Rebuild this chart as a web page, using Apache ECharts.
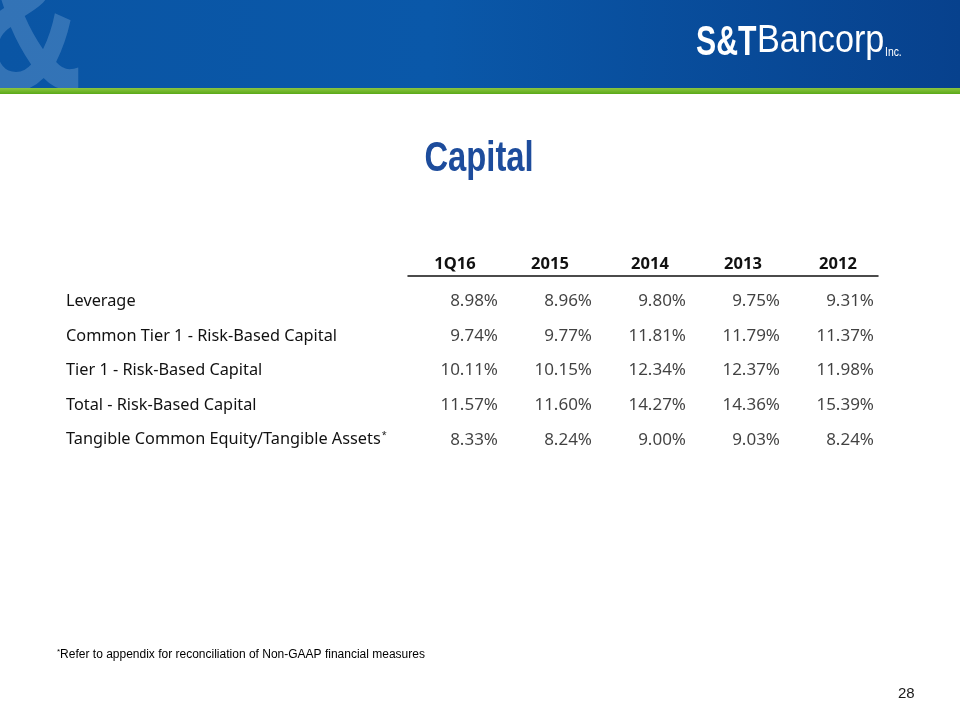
<!DOCTYPE html>
<html><head><meta charset="utf-8">
<script src="https://cdn.jsdelivr.net/npm/echarts@6/dist/echarts.min.js"></script>
<style>html,body{margin:0;padding:0;background:#fff}#c{width:960px;height:720px}</style>
</head><body><div id="c"></div>
<script>
const columns = ['1Q16', '2015', '2014', '2013', '2012'];
const rowLabels = ['Leverage', 'Common Tier 1 - Risk-Based Capital', 'Tier 1 - Risk-Based Capital', 'Total - Risk-Based Capital', 'Tangible Common Equity/Tangible Assets'];
const leverage = [8.98, 8.96, 9.80, 9.75, 9.31];
const commonTier1 = [9.74, 9.77, 11.81, 11.79, 11.37];
const tier1 = [10.11, 10.15, 12.34, 12.37, 11.98];
const totalRBC = [11.57, 11.60, 14.27, 14.36, 15.39];
const tangibleCE = [8.33, 8.24, 9.00, 9.03, 8.24];
const rows = [leverage, commonTier1, tier1, totalRBC, tangibleCE];
const starredRow = 4;

const cells = [];
rows.forEach((r, ri) => r.forEach((v, ci) => cells.push([ci, ri, v])));

const chart = echarts.init(document.getElementById('c'), null, {renderer: 'canvas'});
const tableFont = 'Noto Sans';
const headerShift = [0, 2, 14, 12, 14];
chart.setOption({
  backgroundColor: '#ffffff',
  animation: false,
  graphic: [
    {type: 'rect', z: -10, shape: {x: 0, y: 0, width: 960, height: 90},
     style: {fill: new echarts.graphic.LinearGradient(0, 0, 1, 0, [
       {offset: 0, color: '#0a55a4'}, {offset: 0.45, color: '#0a58a9'}, {offset: 1, color: '#07418d'}])}},
    {type: 'text', z: -9, x: -28, y: -70, scaleX: 0.75,
     style: {text: '&', font: 'bold 205px "Liberation Sans"', fill: 'rgba(150,185,225,0.3)'}},
    {type: 'rect', z: -8, shape: {x: 0, y: 88, width: 960, height: 632}, style: {fill: '#ffffff'}},
    {type: 'rect', z: -7, shape: {x: 0, y: 88, width: 960, height: 6},
     style: {fill: new echarts.graphic.LinearGradient(0, 0, 0, 1, [
       {offset: 0, color: '#8cc63f'}, {offset: 1, color: '#5aa919'}])}},
    {type: 'text', z: -6, x: 696, y: 22, scaleX: 0.72,
     style: {text: 'S&T', font: 'bold 42px "Liberation Sans"', fill: '#ffffff', letterSpacing: -2}},
    {type: 'text', z: -6, x: 757, y: 23, scaleX: 0.9,
     style: {text: 'Bancorp', font: '38px "Liberation Sans"', fill: '#ffffff'}},
    {type: 'text', z: -6, x: 885, y: 46, scaleX: 0.8,
     style: {text: 'Inc.', font: '13px "Liberation Sans"', fill: '#ffffff'}},
    {type: 'text', z: -6, x: 479, y: 138, scaleX: 0.78,
     style: {text: 'Capital', font: 'bold 42px "Liberation Sans"', fill: '#1d4c9c', align: 'center'}},
    {type: 'text', z: -6, left: 57, top: 648,
     style: {text: '{s|*}{t|Refer to appendix for reconciliation of Non-GAAP financial measures}',
       rich: {s: {fontSize: 8, fontFamily: 'Liberation Sans', fill: '#000', verticalAlign: 'top', padding: [0, 0, 6, 0]},
              t: {fontSize: 12, fontFamily: 'Liberation Sans', fill: '#000'}}}},
    {type: 'text', z: -6, left: 898, top: 686,
     style: {text: '28', font: '15px "Liberation Sans"', fill: '#1a1a1a'}}
  ],
  grid: {left: 408, right: 82, top: 284, bottom: 263},
  xAxis: {
    type: 'category', data: columns, position: 'top', offset: 8,
    axisLine: {show: true, lineStyle: {color: '#111', width: 1.5}},
    axisTick: {show: false}, splitLine: {show: false},
    axisLabel: {
      margin: 3,
      formatter: (v, i) => '{h' + i + '|' + v + '}',
      rich: Object.fromEntries(headerShift.map((s, i) => ['h' + i,
        {fontFamily: tableFont, fontWeight: 'bold', fontSize: 16.5, color: '#111', padding: [0, 0, 0, s]}]))
    }
  },
  yAxis: {
    type: 'category', data: rowLabels, inverse: true,
    axisLine: {show: false}, axisTick: {show: false}, splitLine: {show: false},
    axisLabel: {
      margin: 342, align: 'left',
      formatter: (v, i) => i === starredRow ? '{a|' + v + '}{s|*}' : '{a|' + v + '}',
      rich: {
        a: {fontFamily: tableFont, fontSize: 16.3, color: '#111'},
        s: {fontFamily: tableFont, fontSize: 9, color: '#111', verticalAlign: 'top', padding: [0, 0, 8, 1]}
      }
    }
  },
  series: [{
    type: 'scatter', symbolSize: 0, data: cells,
    label: {
      show: true, position: 'inside', align: 'right', offset: [43, 0],
      fontFamily: tableFont, fontSize: 17, color: '#111',
      formatter: p => p.value[2].toFixed(2) + '%'
    }
  }]
});
</script></body></html>
